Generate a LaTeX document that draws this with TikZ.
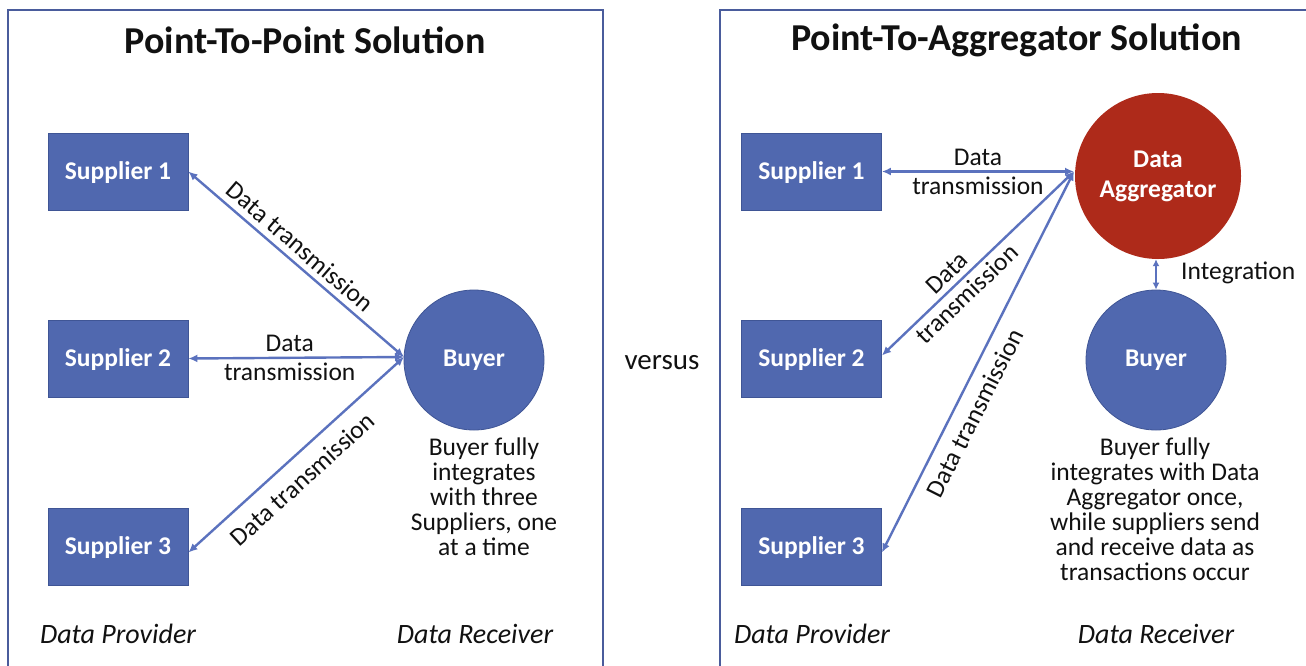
\documentclass[tikz,border=0pt]{standalone}
\usepackage{fontspec}
\setmainfont{Carlito}
\usetikzlibrary{arrows.meta}
\definecolor{boxblue}{HTML}{5068AF}
\definecolor{boxedge}{HTML}{3F5595}
\definecolor{aggred}{HTML}{AE2A1A}
\definecolor{arrowblue}{HTML}{5B72BE}
\definecolor{framecol}{HTML}{4A5C9C}
\definecolor{txt}{HTML}{111111}
\tikzset{
  supplier/.style={rectangle, minimum width=140pt, minimum height=77pt, fill=boxblue, draw=boxedge, line width=0.8pt, text=white, text height=17pt, text depth=2pt, font=\bfseries\fontsize{25.5}{28}\selectfont},
  party/.style={circle, minimum size=#1, inner sep=0pt, text=white, align=center, font=\bfseries\fontsize{25.5}{30}\selectfont},
  buyer/.style={party=140pt, fill=boxblue, draw=boxedge, line width=0.8pt},
  aggregator/.style={party=166pt, fill=aggred},
  link/.style={draw=arrowblue, line width=2.4pt, {Latex[length=9pt,width=8pt]}-{Latex[length=9pt,width=8pt]}},
  lbl/.style={text=txt, align=center, font=\fontsize{25.5}{29}\selectfont, inner sep=2pt},
  body/.style={text=txt, align=center, font=\fontsize{25.5}{25}\selectfont},
  foot/.style={text=txt, font=\itshape\fontsize{28}{30}\selectfont},
  heading/.style={text=txt, font=\bfseries\fontsize{38}{42}\selectfont},
  frame/.style={draw=framecol, line width=1.2pt}
}
\begin{document}
\begin{tikzpicture}[x=1pt,y=-1pt]
\useasboundingbox (0,0) rectangle (1306,665);
\clip (0,0) rectangle (1306,665);
\fill[white] (0,0) rectangle (1306,665);
% frames
\draw[frame] (8,10) rectangle (603,700);
\draw[frame] (720,10) rectangle (1340,700);
% titles
\node[heading] (t1) at (305,40) {Point-To-Point Solution};
\node[heading] (t2) at (1016.5,40) {Point-To-Aggregator Solution};
% left panel
\node[supplier] (s1) at (118,171.5) {Supplier 1};
\node[supplier] (s2) at (118,358.5) {Supplier 2};
\node[supplier] (s3) at (118,546.5) {Supplier 3};
\node[buyer] (b1) at (474,360) {Buyer};
\coordinate (b1in) at (404,357);
\draw[link] (s1.east) -- node[lbl, sloped, pos=0.47, above=4pt] {Data transmission} (b1in);
\draw[link] (s2.east) -- node[lbl, pos=0.47] {Data\\transmission} (b1in);
\draw[link] ([yshift=-6pt]s3.east) -- node[lbl, sloped, pos=0.46, below=10pt] {Data transmission} (b1in);
\node[body] (bt1) at (484,497) {Buyer fully\\integrates\\with three\\Suppliers, one\\at a time};
\node[foot] (dp1) at (118,634) {Data Provider};
\node[foot] (dr1) at (475,634) {Data Receiver};
% versus
\node[lbl, font=\fontsize{29}{32}\selectfont] (vs) at (662,363) {versus};
% right panel
\node[supplier] (r1) at (811.5,171.5) {Supplier 1};
\node[supplier] (r2) at (811.5,358.5) {Supplier 2};
\node[supplier] (r3) at (811.5,546.5) {Supplier 3};
\node[aggregator] (ag) at (1158,176) {Data\\Aggregator};
\node[buyer] (b2) at (1156,360) {Buyer};
\coordinate (agin) at (1074,171.5);
\draw[link] (r1.east) -- node[lbl] {Data\\transmission} (agin);
\draw[link] ([yshift=3pt]r2.east) -- node[lbl, sloped, pos=0.39] {Data\\transmission} (agin);
\draw[link] ([yshift=-6pt]r3.east) -- node[lbl, sloped, pos=0.39, below=8pt] {Data transmission} (agin);
\draw[link, {Latex[length=7pt,width=7pt]}-{Latex[length=7pt,width=7pt]}] (ag.south -| b2.north) -- (b2.north);
\node[lbl, anchor=west] (int) at (1179,273) {Integration};
\node[body] (bt2) at (1155,509.5) {Buyer fully\\integrates with Data\\Aggregator once,\\while suppliers send\\and receive data as\\transactions occur};
\node[foot] (dp2) at (812,634) {Data Provider};
\node[foot] (dr2) at (1156,634) {Data Receiver};
\end{tikzpicture}
\end{document}
